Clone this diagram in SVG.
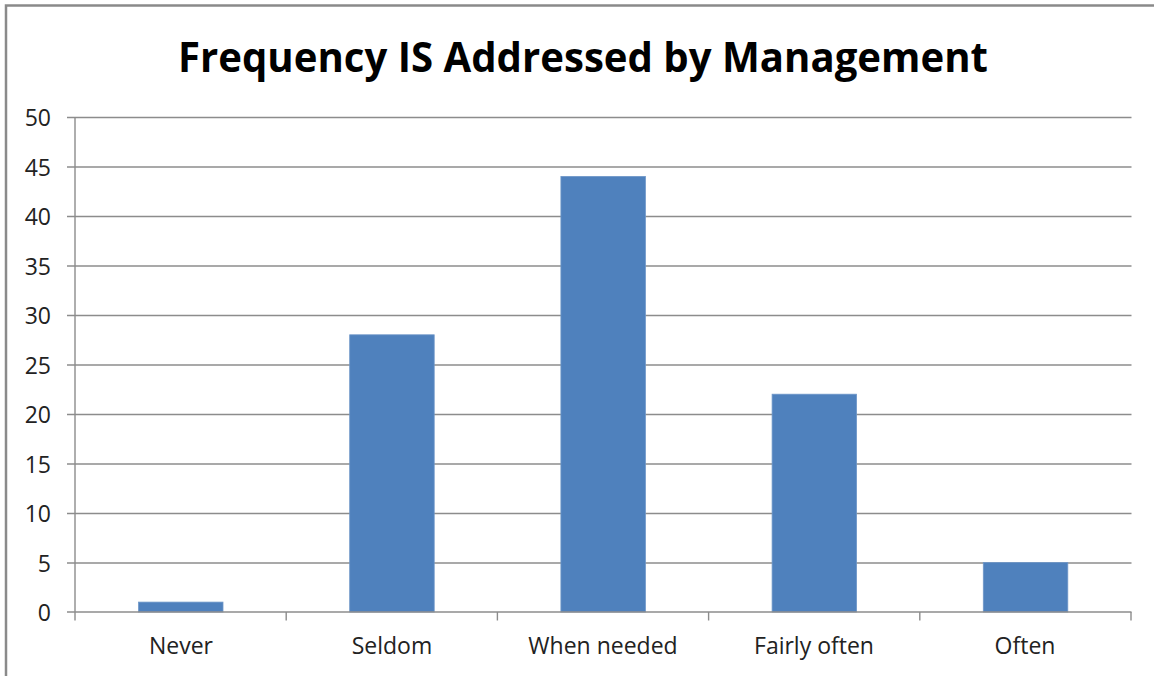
<svg xmlns="http://www.w3.org/2000/svg" width="1154" height="676" viewBox="0 0 1154 676">
  <style>
    .frame { fill: none; stroke: #8a8a8a; stroke-width: 2.5; }
    .grid { stroke: #8c8c8c; stroke-width: 1.4; }
    .axis { stroke: #8c8c8c; stroke-width: 1.4; fill: none; }
    .bar { fill: #4f81bd; stroke: #6f97c8; stroke-width: 0.8; }
    .ylab { font-family: "Open Sans", "Liberation Sans", sans-serif; font-size: 23px; fill: #222; text-anchor: end; }
    .xlab { font-family: "Open Sans", "Liberation Sans", sans-serif; font-size: 23px; fill: #222; text-anchor: middle; }
    .title { font-family: "Open Sans", "Liberation Sans", sans-serif; font-size: 42px; font-weight: bold; fill: #000; text-anchor: middle; }
  </style>
  <rect width="1154" height="676" fill="#ffffff"/>
  <!-- chart frame (runs off the right and bottom edges) -->
  <path class="frame" d="M6,700 V5.5 H1160"/>

  <text class="title" x="583" y="72" textLength="810" lengthAdjust="spacingAndGlyphs">Frequency IS Addressed by Management</text>

  <!-- horizontal gridlines, 50 down to 0, 9.9px per unit -->
  <g id="gridlines">
    <line class="grid" x1="67" y1="117.5" x2="1131.5" y2="117.5"/>
    <line class="grid" x1="67" y1="167" x2="1131.5" y2="167"/>
    <line class="grid" x1="67" y1="216.5" x2="1131.5" y2="216.5"/>
    <line class="grid" x1="67" y1="266" x2="1131.5" y2="266"/>
    <line class="grid" x1="67" y1="315.5" x2="1131.5" y2="315.5"/>
    <line class="grid" x1="67" y1="365" x2="1131.5" y2="365"/>
    <line class="grid" x1="67" y1="414.5" x2="1131.5" y2="414.5"/>
    <line class="grid" x1="67" y1="464" x2="1131.5" y2="464"/>
    <line class="grid" x1="67" y1="513.5" x2="1131.5" y2="513.5"/>
    <line class="grid" x1="67" y1="563" x2="1131.5" y2="563"/>
  </g>

  <g id="y-labels">
    <text class="ylab" x="51" y="126">50</text>
    <text class="ylab" x="51" y="175.5">45</text>
    <text class="ylab" x="51" y="225">40</text>
    <text class="ylab" x="51" y="274.5">35</text>
    <text class="ylab" x="51" y="324">30</text>
    <text class="ylab" x="51" y="373.5">25</text>
    <text class="ylab" x="51" y="423">20</text>
    <text class="ylab" x="51" y="472.5">15</text>
    <text class="ylab" x="51" y="522">10</text>
    <text class="ylab" x="51" y="571.5">5</text>
    <text class="ylab" x="51" y="621">0</text>
  </g>

  <g id="bars">
    <g id="bar-never"><rect class="bar" x="138.5" y="602.1" width="84.5" height="9.9"/></g>
    <g id="bar-seldom"><rect class="bar" x="349.7" y="334.8" width="84.5" height="277.2"/></g>
    <g id="bar-when-needed"><rect class="bar" x="560.9" y="176.4" width="84.5" height="435.6"/></g>
    <g id="bar-fairly-often"><rect class="bar" x="772.1" y="394.2" width="84.5" height="217.8"/></g>
    <g id="bar-often"><rect class="bar" x="983.3" y="562.5" width="84.5" height="49.5"/></g>
  </g>

  <!-- axes and tick marks -->
  <g id="axes">
    <line class="axis" x1="75" y1="117.5" x2="75" y2="620.5"/>
    <line class="axis" x1="67" y1="612" x2="1131.5" y2="612"/>
    <line class="axis" x1="286.2" y1="612" x2="286.2" y2="620.5"/>
    <line class="axis" x1="497.4" y1="612" x2="497.4" y2="620.5"/>
    <line class="axis" x1="708.6" y1="612" x2="708.6" y2="620.5"/>
    <line class="axis" x1="919.8" y1="612" x2="919.8" y2="620.5"/>
    <line class="axis" x1="1131" y1="612" x2="1131" y2="620.5"/>
  </g>

  <g id="x-labels">
    <text class="xlab" x="181" y="654">Never</text>
    <text class="xlab" x="392" y="654">Seldom</text>
    <text class="xlab" x="603" y="654">When needed</text>
    <text class="xlab" x="814" y="654">Fairly often</text>
    <text class="xlab" x="1025" y="654">Often</text>
  </g>
</svg>
